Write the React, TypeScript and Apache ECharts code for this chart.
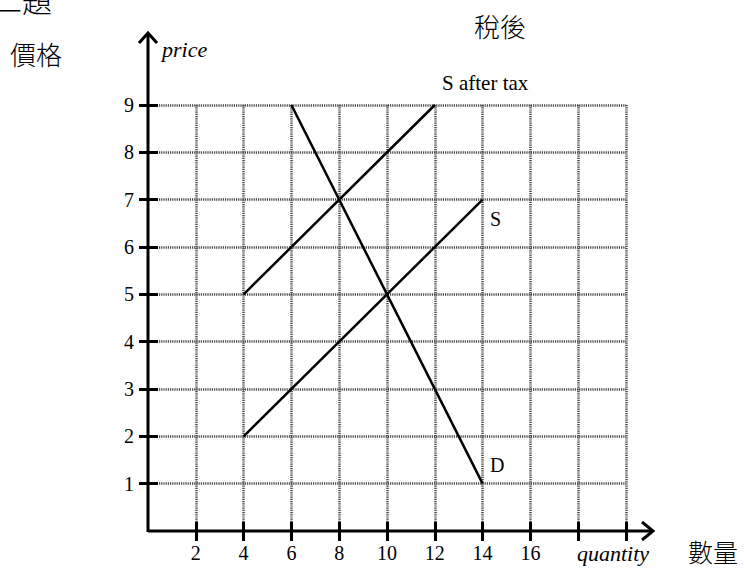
import React, { useEffect, useRef } from 'react';
import * as echarts from 'echarts';

const xTickValues = [2, 4, 6, 8, 10, 12, 14, 16, 18, 20];
const xLabelValues = [2, 4, 6, 8, 10, 12, 14, 16];
const yTickValues = [1, 2, 3, 4, 5, 6, 7, 8, 9];
const demandD = [[6, 9], [14, 1]];
const supplyS = [[4, 2], [14, 7]];
const supplyAfterTax = [[4, 5], [12, 9]];

const SERIF = '"Liberation Serif", "Times New Roman", serif';
const CJK = '"Noto Sans CJK TC", "Noto Sans CJK SC", sans-serif';

export default function App() {
  const ref = useRef<HTMLDivElement>(null);
  useEffect(() => {
    document.body.style.margin = '0';
    const chart = echarts.init(ref.current!, null, { renderer: 'svg' });
    const gridLine = { show: true, lineStyle: { color: '#4a4a4a', width: 2.5, type: [1.2, 1] as any } };
    const tickStyle = { color: '#000', width: 3 };
    const lineSeries = (name: string, data: number[][]) => ({
      name,
      type: 'line',
      data,
      showSymbol: false,
      symbol: 'none',
      xAxisIndex: 0,
      yAxisIndex: 0,
      lineStyle: { color: '#000', width: 2.5 },
      z: 5,
    });
    chart.setOption({
      animation: false,
      backgroundColor: '#fff',
      grid: { left: 148, top: 105, width: 478, height: 426 },
      xAxis: [
        {
          type: 'value', min: 0, max: 20, interval: 2, position: 'bottom',
          axisLine: { show: false },
          axisTick: { show: true, inside: false, length: 10, customValues: xTickValues, lineStyle: tickStyle },
          axisLabel: { show: true, customValues: xLabelValues, margin: 12, fontSize: 20, color: '#000', fontFamily: SERIF },
          splitLine: gridLine,
        },
        {
          type: 'value', min: 0, max: 20, interval: 2, position: 'bottom', gridIndex: 0,
          axisLine: { show: false },
          axisTick: { show: true, inside: true, length: 9, customValues: xTickValues, lineStyle: tickStyle },
          axisLabel: { show: false },
          splitLine: { show: false },
        },
      ],
      yAxis: [
        {
          type: 'value', min: 0, max: 9, interval: 1, position: 'left',
          axisLine: { show: false },
          axisTick: { show: true, inside: false, length: 9, customValues: yTickValues, lineStyle: tickStyle },
          axisLabel: { show: true, customValues: yTickValues, margin: 14, fontSize: 20, color: '#000', fontFamily: SERIF },
          splitLine: gridLine,
        },
        {
          type: 'value', min: 0, max: 9, interval: 1, position: 'left', gridIndex: 0,
          axisLine: { show: false },
          axisTick: { show: true, inside: true, length: 10, customValues: yTickValues, lineStyle: tickStyle },
          axisLabel: { show: false },
          splitLine: { show: false },
        },
      ],
      series: [
        lineSeries('D', demandD),
        lineSeries('S', supplyS),
        lineSeries('S after tax', supplyAfterTax),
      ],
      graphic: [
        { type: 'line', z: 20, shape: { x1: 148, y1: 531, x2: 653, y2: 531 }, style: { stroke: '#000', lineWidth: 3 } },
        { type: 'polyline', z: 20, shape: { points: [[642, 522], [653, 531], [642, 540]] }, style: { stroke: '#000', lineWidth: 3, fill: 'none' } },
        { type: 'line', z: 20, shape: { x1: 148, y1: 532, x2: 148, y2: 33 }, style: { stroke: '#000', lineWidth: 3 } },
        { type: 'polyline', z: 20, shape: { points: [[139, 43], [148, 33], [157, 43]] }, style: { stroke: '#000', lineWidth: 3, fill: 'none' } },
        { type: 'text', z: 20, style: { text: 'price', x: 162, y: 49, align: 'left', verticalAlign: 'middle', font: `italic 22px ${SERIF}`, fill: '#000' } },
        { type: 'text', z: 20, style: { text: 'quantity', x: 613, y: 553, align: 'center', verticalAlign: 'middle', font: `italic 22px ${SERIF}`, fill: '#000' } },
        { type: 'text', z: 20, style: { text: 'S after tax', x: 442, y: 83, align: 'left', verticalAlign: 'middle', font: `21px ${SERIF}`, fill: '#000' } },
        { type: 'text', z: 20, style: { text: 'S', x: 490, y: 219, align: 'left', verticalAlign: 'middle', font: `20px ${SERIF}`, fill: '#000' } },
        { type: 'text', z: 20, style: { text: 'D', x: 490, y: 465, align: 'left', verticalAlign: 'middle', font: `20px ${SERIF}`, fill: '#000' } },
        { type: 'text', z: 20, style: { text: '價格', x: 36, y: 53, align: 'center', verticalAlign: 'middle', font: `300 26px ${CJK}`, fill: '#000' } },
        { type: 'text', z: 20, style: { text: '數量', x: 713, y: 551, align: 'center', verticalAlign: 'middle', font: `300 25px ${CJK}`, fill: '#000' } },
        { type: 'text', z: 20, style: { text: '稅後', x: 500, y: 25, align: 'center', verticalAlign: 'middle', font: `300 26px ${CJK}`, fill: '#000' } },
        { type: 'text', z: 20, style: { text: '二題', x: -8, y: -1, align: 'left', verticalAlign: 'middle', font: `300 30px ${CJK}`, fill: '#000' } },
      ],
    });
    return () => chart.dispose();
  }, []);
  return <div ref={ref} style={{ width: 744, height: 569 }} />;
}
